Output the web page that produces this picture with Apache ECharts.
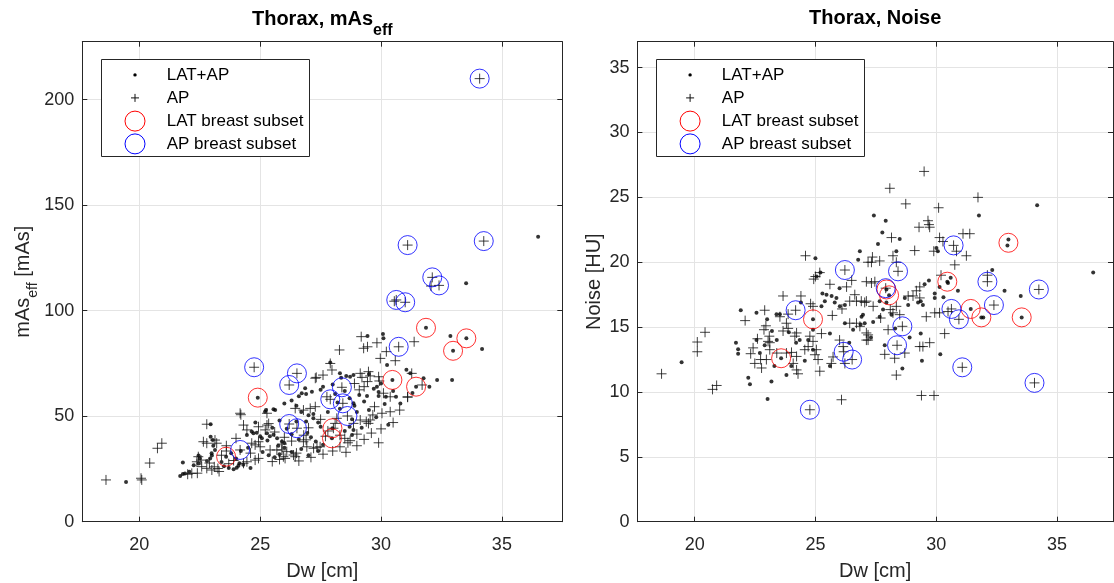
<!DOCTYPE html>
<html><head><meta charset="utf-8">
<script src="https://cdn.jsdelivr.net/npm/echarts@6/dist/echarts.min.js"></script>
<style>html,body{margin:0;padding:0;background:#fff}#c{width:1114px;height:583px}</style>
</head><body><div id="c"></div>
<script>
// ---------------- data ----------------
const xTicks = [20, 25, 30, 35];
const yTicksL = [0, 50, 100, 150, 200];
const yTicksR = [0, 5, 10, 15, 20, 25, 30, 35];
const legendNames = ['LAT+AP', 'AP', 'LAT breast subset', 'AP breast subset'];

// Left panel: Thorax, mAs_eff  [Dw, mAs_eff]
const lDots = [
[19.45,18.8],[21.69,21.7],[21.8,22.6],[21.89,22.9],[22.07,23.7],[21.8,28.0],[22.95,46.2],
[22.25,26.8],[22.45,27.6],[22.5,30.0],[22.45,31.4],[22.8,28.8],[22.93,30.0],[23.0,31.4],[23.06,36.0],[23.13,34.0],[22.99,32.5],
[22.95,40.3],[23.04,38.7],
[23.4,28.3],[23.5,26.3],[23.7,25.5],[23.9,24.8],[23.59,30.8],[23.8,32.5],[24.0,30.0],[24.1,26.5],[24.3,27.0],[24.6,25.5],[24.03,25.6],[24.14,27.7],
[24.2,33.5],[24.5,35.0],[25.0,40.5],[25.5,44.5],[24.8,47.0],[25.8,48.0],
[24.45,41.1],[24.65,42.7],[24.72,41.9],[24.86,42.2],[24.90,58.8],[25.07,39.5],[25.28,41.9],
[25.2,52.1],[25.24,52.9],[25.55,53.3],[25.62,52.9],
[25.4,40.5],[25.55,41.2],[25.7,39.5],[25.9,38.0],[26.0,37.3],[25.75,36.0],[25.3,38.5],[25.1,33.0],[25.35,31.5],[25.6,30.5],[25.8,32.0],
[26.3,57.5],[26.6,59.5],[26.9,60.5],[26.5,55.0],[26.7,52.0],[27.0,50.5],[27.2,51.0],[26.9,47.5],[27.4,47.0],[27.5,45.0],[26.95,42.0],[27.1,40.0],[27.3,38.0],[26.6,39.0],[26.3,41.5],[26.1,44.0],[26.0,35.0],[26.3,33.0],[26.7,34.5],[27.0,31.5],[27.4,33.5],[27.6,36.5],
[26.72,60.9],[26.86,63.2],[27.14,61.6],[27.6,64.0],[26.0,56.0],[26.5,47.5],[27.2,49.0],[27.8,52.0],[27.5,62.5],
[27.99,44.3],[27.97,39.5],
[28.0,65.0],[28.3,70.3],[28.35,68.2],[28.56,69.1],[28.72,68.7],[28.86,69.5],[27.9,75.5],
[28.1,60.5],[28.5,62.0],[28.7,58.5],[28.9,55.0],[29.0,52.0],[28.8,48.5],[28.7,45.0],[28.5,43.0],[29.2,44.5],[28.3,53.5],[29.1,60.0],[29.3,57.0],[28.2,56.5],
[28.8,41.1],[28.86,43.5],[28.86,56.1],[29.5,53.0],
[29.44,88.0],[30.08,89.0],[30.1,86.9],[30.25,74.3],
[29.7,63.0],[29.9,61.5],[30.2,59.2],[30.15,55.8],[30.62,59.2],[30.0,65.5],[29.5,70.0],[29.8,49.5],[30.3,46.0],
[29.83,64.0],[29.9,59.6],[29.42,59.6],[30.5,62.0],[30.8,56.0],[31.3,61.0],
[30.47,67.2],[31.05,72.0],[31.21,70.3],[31.45,64.0],[32.0,64.0],[31.76,68.0],[32.32,67.2],[32.94,67.2],
[31.86,91.9],[32.87,88.0],[33.53,86.9],[32.98,81.0],[34.18,81.8],[33.52,113.0],[36.5,135.1]
];
const lAP = [
[18.62,19.8],[20.07,20.6],[20.1,19.8],[20.43,27.8],[20.75,34.8],[20.93,37.2],[22.79,46.2],[24.2,50.7],
[22.17,22.9],[22.4,23.0],[22.0,22.5],[22.65,37.9],[22.79,37.2],[23.13,38.7],[23.2,37.2],
[22.44,30.8],[22.55,29.2],[22.38,28.4],[22.58,26.1],[22.79,25.3],[23.0,24.5],[23.1,26.0],[23.25,25.2],[23.3,23.8],[22.9,27.8],
[23.6,33.5],[23.9,29.0],[23.7,27.5],[24.17,34.0],[23.6,36.0],[23.4,31.5],[24.0,39.5],[24.6,32.5],
[24.31,27.7],[24.45,28.4],[24.79,29.2],[24.93,30.0],
[24.65,37.2],[24.79,36.4],[24.93,37.9],[25.0,35.5],
[24.31,45.8],[24.45,43.5],[24.93,45.0],[25.21,43.5],[25.28,45.8],[25.35,46.5],[25.28,51.4],[24.75,73.2],[24.17,51.4],
[25.41,34.0],[25.69,34.0],[25.9,34.0],[25.96,30.8],[26.38,31.6],[26.45,30.8],[26.5,32.5],[26.1,33.2],[26.03,30.0],
[25.5,28.5],[25.8,29.5],[26.6,28.8],[27.1,30.5],[27.6,32.0],[25.9,36.8],[26.9,38.8],
[26.79,37.9],[26.93,35.5],[27.21,34.8],[27.35,35.3],[27.48,35.5],
[26.45,53.7],[26.79,52.9],[27.07,53.7],[27.28,54.5],
[26.2,64.8],[26.52,70.3],[27.28,68.0],[27.6,69.5],[26.2,46.3],[26.52,44.3],
[28.1,46.6],[28.17,49.0],[27.5,48.5],[27.8,43.0],[28.3,41.0],[28.03,44.3],[27.7,40.5],[28.5,39.5],
[28.0,33.5],[28.3,35.5],[29.0,36.0],[29.3,39.0],[29.0,41.5],[29.6,42.0],[30.0,44.0],[30.5,47.0],
[27.9,58.0],[27.76,59.2],[28.38,63.7],[28.42,56.1],[28.61,50.1],
[27.32,68.4],[27.9,75.0],[27.97,71.9],[28.28,81.4],
[29.18,87.7],[29.44,82.9],[29.83,84.8],[29.28,82.2],[29.97,77.4],[30.22,80.6],[30.59,76.3],
[29.14,70.3],[29.48,71.1],[29.55,69.1],[29.21,68.4],[29.44,66.4],[29.9,68.7],[29.93,66.7],
[29.1,62.5],[29.3,64.0],[28.9,65.5],
[30.1,60.9],[30.38,59.2],[31.1,59.2],[30.77,52.9],[30.38,52.1],[30.04,51.4],
[29.73,54.5],[29.66,50.6],[29.39,47.4],[29.48,46.6],[28.86,46.6],[29.14,48.2],[29.55,48.2],
[29.9,37.4],[28.55,32.9],[28.63,37.4],[28.72,38.4],
[30.73,82.9],[31.37,85.3],[30.55,104.5],[30.63,105.1],[31.0,104.0],[31.1,131.1],[32.12,115.8],[32.4,112.0],[32.07,111.7],[34.08,210.0],[34.25,133.0],
[31.7,64.8],[31.27,70.3],[31.1,59.0],
[26.0,40.0],[25.6,42.5],[26.3,38.2],[27.0,44.5],[26.8,41.0]
];
const lLat = [[23.59,30.8],[24.90,58.8],[27.99,44.3],[27.97,39.5],[30.47,67.2],[31.45,64.0],[31.86,91.9],[33.53,86.9],[32.98,81.0]];
const lApB = [[24.17,34.0],[24.75,73.2],[26.2,64.8],[26.52,70.3],[26.2,46.3],[26.52,44.3],[27.9,58.0],[28.38,63.7],[28.42,56.1],[28.61,50.1],
[30.73,82.9],[30.63,105.1],[31.0,104.0],[31.1,131.1],[32.12,115.8],[32.4,112.0],[34.08,210.0],[34.25,133.0]];

// Right panel: Thorax, Noise  [Dw, Noise]
const rDots = [
[19.46,12.3],[21.71,13.8],[21.8,13.3],[21.8,12.95],[21.91,16.3],[22.22,11.1],[22.29,10.6],[22.56,16.1],[23.02,9.45],[23.18,10.8],[22.56,14.0],[23.39,16.0],[23.53,16.0],[23.8,11.3],
[23.58,12.6],[23.4,14.0],[23.3,12.0],[24.0,12.0],[24.2,13.8],[22.9,13.6],[23.0,15.6],[22.7,13.0],[23.2,14.7],[23.9,14.6],[24.4,16.9],
[24.9,15.6],[25.21,19.2],[25.05,18.9],[25.29,17.6],[25.46,17.5],[25.39,17.0],[25.67,17.4],[25.87,17.25],[25.8,16.9],[25.25,16.6],[26.01,16.6],[26.22,16.7],[26.22,15.3],[26.56,14.8],[26.87,15.2],[26.91,15.8],[26.84,20.85],[26.77,20.2],[24.9,14.8],[24.35,14.0],[24.7,14.0],[24.9,13.26],[25.6,12.0],[24.56,12.4],
[25.6,14.5],[26.4,13.8],[27.3,14.2],[26.0,18.0],[25.0,20.3],
[27.42,23.6],[27.91,23.2],[27.77,22.3],[27.59,21.4],[28.49,21.8],[28.35,20.85],
[27.94,17.9],[28.05,17.45],[28.3,14.9],[28.9,14.2],[29.7,18.6],[30.3,17.3],[30.9,17.8],
[30.17,12.9],[29.41,12.4],[28.6,11.8],[29.36,14.5],[27.87,13.6],[30.14,18.1],[29.94,17.6],[29.94,17.25],[29.52,18.3],[29.36,17.0],[29.45,16.7],[29.25,16.9],[28.84,16.7],[28.7,17.25],
[27.66,17.0],[27.94,16.9],[27.8,16.35],[28.15,15.96],[27.66,15.8],[27.39,15.4],[27.04,15.3],[26.97,15.96],
[30.01,21.1],[30.07,20.85],[30.6,18.8],[30.49,18.4],
[30.46,18.5],[31.43,16.4],[31.87,15.75],[31.95,15.75],[31.77,23.6],[34.18,24.4],[32.99,21.75],[32.95,21.3],[32.32,19.4],[32.83,17.8],[33.5,17.4],[33.54,15.75],[36.5,19.2]
];
const rAP = [
[18.63,11.4],[20.11,13.85],[20.11,13.1],[20.43,14.6],[20.74,10.2],[20.91,10.5],[22.09,15.5],[22.9,16.3],
[22.32,12.95],[22.42,13.4],[22.49,12.2],[22.73,12.5],[22.77,11.85],[23.04,13.9],[23.11,13.26],[22.97,12.5],
[22.95,15.1],[22.87,14.8],[23.09,14.3],[23.11,13.8],[22.6,14.1],[23.4,13.0],
[23.66,17.4],[23.53,15.8],[23.87,16.0],[23.8,15.3],[23.66,14.7],[23.87,14.9],[24.15,14.3],[24.22,14.55],
[23.8,13.0],[24.01,13.05],[24.22,12.74],[24.08,12.2],[24.22,11.7],[24.28,11.4],[24.4,17.4],
[24.18,16.3],[24.77,8.63],[24.59,20.5],[24.93,18.7],[25.0,18.9],[25.18,19.2],[24.8,16.8],[24.9,16.6],
[24.77,14.3],[24.9,13.9],[24.7,13.5],[24.56,13.26],[25.04,13.26],[24.98,12.87],[25.11,12.5],[25.18,11.6],[25.25,14.5],
[25.6,18.3],[26.29,18.1],[26.63,17.5],[26.42,17.0],[26.7,17.0],[26.9,17.0],[27.11,18.5],[27.18,20.0],[25.7,15.9],[26.1,16.4],[26.5,18.6],
[26.42,15.3],[26.7,15.3],[26.84,15.06],[27.11,14.55],[27.18,14.0],
[26.0,14.0],[26.15,13.5],[25.73,12.7],[25.66,12.2],[26.22,12.2],
[26.08,9.4],[26.22,19.4],[26.17,13.1],[26.52,12.5],
[29.5,27.0],[28.08,25.7],[31.73,25.0],[28.74,24.5],[30.1,24.2],
[29.29,22.7],[29.66,23.2],[29.7,22.9],[29.73,22.7],
[28.15,21.9],[30.14,21.9],[30.28,21.6],[31.11,22.2],[31.39,22.2],[30.72,21.3],
[29.11,20.9],[29.9,20.85],[30.84,20.85],[31.25,20.5],[30.77,19.8],
[27.36,20.4],[27.66,20.1],[27.32,20.0],[28.21,20.5],[28.35,20.0],
[28.42,19.3],[27.91,18.0],[28.6,15.06],[28.38,13.6],[30.63,16.4],[30.94,15.6],[31.08,11.9],
[32.12,18.5],[32.12,19.0],[32.39,16.7],[34.25,17.9],[34.07,10.7],
[29.39,9.73],[29.91,9.73],
[29.59,15.8],[29.94,16.1],[30.14,16.1],[30.49,16.2],[30.35,14.5],
[29.45,13.5],[29.73,13.8],[29.32,13.5],[27.87,12.9],[28.28,12.6],[28.35,11.3],[28.7,13.0],[27.7,15.7],
[28.01,14.8],[27.18,14.4],[27.11,14.0],[27.46,18.5],[27.32,18.4],
[27.11,17.0],[27.04,16.9],[27.39,16.6],[28.1,16.35],[28.21,16.1],[28.49,15.96],[28.35,16.6],
[29.32,18.1],[29.18,17.8],[29.04,17.4],[28.84,17.4],[29.32,17.25],[30.2,19.0]
];
const rLat = [[23.58,12.6],[24.9,15.6],[27.94,17.9],[28.05,17.45],[30.46,18.5],[32.99,21.5],[31.43,16.4],[31.87,15.75],[33.54,15.75]];
const rApB = [[24.18,16.3],[24.77,8.63],[26.22,19.4],[26.17,13.1],[26.52,12.5],[27.91,18.0],[28.42,19.3],[28.6,15.06],[28.38,13.6],
[30.72,21.3],[30.63,16.4],[30.94,15.6],[31.08,11.9],[32.12,18.5],[32.39,16.7],[34.25,17.9],[34.07,10.7]];

// ---------------- layout / style ----------------
const FONT = '"Liberation Sans", Arial, Helvetica, sans-serif';
const AX = '#262626';
const GRIDC = '#e4e4e4';
const GL = {left: 82.3, top: 41.7, width: 480, height: 480};
const GR = {left: 637.4, top: 41.7, width: 475.6, height: 480};
const PLUS = 'path://M5,0L5,10M0,5L10,5';

function subRich(size, bold, color) {
  return {
    m: {fontSize: size, fontWeight: bold ? 'bold' : 'normal', fontFamily: FONT, color: color, verticalAlign: 'top', lineHeight: 22},
    sub: {fontSize: bold ? 16 : 14, fontWeight: bold ? 'bold' : 'normal', fontFamily: FONT, color: color, verticalAlign: 'top', lineHeight: 17, padding: [13, 0, 0, 0]}
  };
}

function xPair(gi, min, max, title, titleRich, titleGap) {
  const line = {show: true, onZero: false, lineStyle: {color: AX, width: 1}};
  return [
    {gridIndex: gi, type: 'value', position: 'bottom', min: min, max: max,
      axisLine: line,
      axisTick: {show: true, inside: true, length: 5, customValues: xTicks, lineStyle: {color: AX}},
      axisLabel: {show: true, customValues: xTicks, color: AX, fontSize: 18, lineHeight: 18, fontFamily: FONT, margin: 14.5},
      splitLine: {show: true, lineStyle: {color: GRIDC, width: 1}},
      name: 'Dw [cm]', nameLocation: 'middle', nameGap: 38.5,
      nameTextStyle: {color: AX, fontSize: 20, lineHeight: 22, fontFamily: FONT}},
    {gridIndex: gi, type: 'value', position: 'top', min: min, max: max,
      axisLine: line,
      axisTick: {show: true, inside: true, length: 5, customValues: xTicks, lineStyle: {color: AX}},
      axisLabel: {show: false}, splitLine: {show: false},
      name: title, nameLocation: 'middle', nameGap: titleGap,
      nameTextStyle: {color: '#000', fontSize: 20, lineHeight: 22, fontWeight: 'bold', fontFamily: FONT, rich: titleRich}}
  ];
}
function yPair(gi, max, ticks, name, nameGap, rich) {
  const line = {show: true, onZero: false, lineStyle: {color: AX, width: 1}};
  return [
    {gridIndex: gi, type: 'value', position: 'left', min: 0, max: max,
      axisLine: line,
      axisTick: {show: true, inside: true, length: 5, customValues: ticks, lineStyle: {color: AX}},
      axisLabel: {show: true, customValues: ticks, color: AX, fontSize: 18, fontFamily: FONT, margin: 8},
      splitLine: {show: true, lineStyle: {color: GRIDC, width: 1}},
      name: name, nameLocation: 'middle', nameGap: nameGap,
      nameTextStyle: {color: AX, fontSize: 20, lineHeight: 22, fontFamily: FONT, rich: rich}},
    {gridIndex: gi, type: 'value', position: 'right', min: 0, max: max,
      axisLine: line,
      axisTick: {show: true, inside: true, length: 5, customValues: ticks, lineStyle: {color: AX}},
      axisLabel: {show: false}, splitLine: {show: false}}
  ];
}

function panelSeries(xi, yi, dots, ap, lat, apb) {
  return [
    {name: legendNames[0], type: 'scatter', xAxisIndex: xi, yAxisIndex: yi, data: dots,
      symbol: 'circle', symbolSize: 4, itemStyle: {color: '#000'}, silent: true, z: 2},
    {name: legendNames[1], type: 'scatter', xAxisIndex: xi, yAxisIndex: yi, data: ap,
      symbol: PLUS, symbolSize: 10, itemStyle: {color: 'none', borderColor: '#111', borderWidth: 1}, silent: true, z: 3},
    {name: legendNames[2], type: 'scatter', xAxisIndex: xi, yAxisIndex: yi, data: lat,
      symbol: 'circle', symbolSize: 19, itemStyle: {color: 'none', borderColor: '#ff0000', borderWidth: 1}, silent: true, z: 4},
    {name: legendNames[3], type: 'scatter', xAxisIndex: xi, yAxisIndex: yi, data: apb,
      symbol: 'circle', symbolSize: 19, itemStyle: {color: 'none', borderColor: '#0000ff', borderWidth: 1}, silent: true, z: 5}
  ];
}

function legendBox(gridLeft) {
  const bx = gridLeft + 19, by = 59.3;
  const mx = bx + 33.7, tx = bx + 65.4;
  const rows = [by + 15.6, by + 38.6, by + 61.8, by + 84.6];
  const els = [
    {type: 'rect', shape: {x: Math.round(bx) + 0.5, y: Math.round(by) + 0.5, width: 208, height: 97},
      style: {fill: '#fff', stroke: AX, lineWidth: 1}, z: 100},
    {type: 'circle', shape: {cx: mx, cy: rows[0], r: 1.7}, style: {fill: '#000'}, z: 101},
    {type: 'line', shape: {x1: mx - 4, y1: rows[1], x2: mx + 4, y2: rows[1]}, style: {stroke: '#111', lineWidth: 1}, z: 101},
    {type: 'line', shape: {x1: mx, y1: rows[1] - 4, x2: mx, y2: rows[1] + 4}, style: {stroke: '#111', lineWidth: 1}, z: 101},
    {type: 'circle', shape: {cx: mx, cy: rows[2], r: 10}, style: {fill: 'none', stroke: '#ff0000', lineWidth: 1}, z: 101},
    {type: 'circle', shape: {cx: mx, cy: rows[3], r: 10}, style: {fill: 'none', stroke: '#0000ff', lineWidth: 1}, z: 101}
  ];
  legendNames.forEach(function (n, i) {
    els.push({type: 'text', x: tx, y: rows[i], z: 101,
      style: {text: n, fill: '#000', font: '17px ' + FONT, align: 'left', verticalAlign: 'middle'}});
  });
  return els;
}

const xs = [].concat(xPair(0, 17.64, 37.5, '{m|Thorax, mAs}{sub|eff}', subRich(20, true, '#000'), 10),
                     xPair(1, 17.63, 37.32, 'Thorax, Noise', null, 12));
const ys = [].concat(yPair(0, 227.5, yTicksL, '{m|mAs}{sub|eff}{m| [mAs]}', 42, subRich(20, false, AX)),
                     yPair(1, 37, yTicksR, 'Noise [HU]', 27, null));

const option = {
  animation: false,
  backgroundColor: '#fff',
  grid: [
    {left: GL.left, top: GL.top, width: GL.width, height: GL.height, containLabel: false, outerBoundsMode: 'none'},
    {left: GR.left, top: GR.top, width: GR.width, height: GR.height, containLabel: false, outerBoundsMode: 'none'}
  ],
  xAxis: xs,
  yAxis: ys,
  series: [].concat(panelSeries(0, 0, lDots, lAP, lLat, lApB), panelSeries(2, 2, rDots, rAP, rLat, rApB)),
  graphic: legendBox(GL.left).concat(legendBox(GR.left))
};

const chart = echarts.init(document.getElementById('c'), null, {renderer: 'canvas'});
chart.setOption(option);
</script>
</body></html>
